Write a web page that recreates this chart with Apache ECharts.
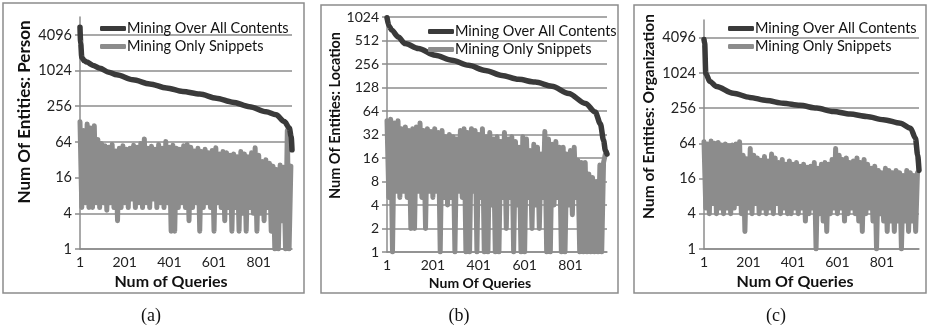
<!DOCTYPE html>
<html>
<head>
<meta charset="utf-8">
<script src="https://cdn.jsdelivr.net/npm/echarts@6/dist/echarts.min.js"></script>
<style>
  html, body { margin: 0; padding: 0; background: #fff; }
  #chart { width: 927px; height: 332px; }
</style>
</head>
<body>
<div id="chart"></div>
<script>
// series names, shared by the three panels
const seriesNames = ['Mining Over All Contents', 'Mining Only Snippets'];
const panelCaptions = ['(a)', '(b)', '(c)'];
const yTitles = ['Num Of Entities: Person', 'Num Of Entities: Location', 'Num of Entities: Organization'];
const xTitles = ['Num of Queries', 'Num Of Queries', 'Num Of Queries'];

// number of queries per panel
const queryCounts = [950, 960, 968];
// snippet values are read every 8th query
const sampleStep = 8;

// (a) Person
const overallQueriesA = [1, 4, 9, 20, 31, 60, 90, 130, 165, 238, 313, 388, 461, 537, 611, 684, 760, 834, 879, 916, 938, 946, 950];
const overallA = [5500, 3000, 1700, 1500, 1420, 1250, 1120, 960, 870, 715, 610, 520, 455, 410, 350, 300, 252, 207, 183, 141, 110, 80, 47];
const snippetA = [
  140, 5, 100, 6, 128, 5, 110, 5, 120, 6, 70, 5,
  60, 6, 55, 4.5, 52, 6, 58, 5, 45, 3, 50, 5,
  55, 6, 48, 5, 50, 7, 56, 5, 52, 6, 60, 5,
  72, 6, 50, 5, 54, 7, 48, 5, 58, 6, 50, 5,
  65, 6, 52, 2, 56, 2, 50, 5, 48, 6, 55, 5,
  58, 3, 52, 5, 45, 6, 50, 2, 44, 5, 48, 6,
  42, 5, 46, 2, 51, 6, 40, 5, 44, 3, 42, 5,
  38, 2, 40, 5, 36, 2, 44, 4, 40, 2, 36, 5,
  42, 4, 51, 2, 38, 4, 30, 3, 32, 5, 28, 2,
  25, 1, 22, 1, 26, 3, 24, 1, 100, 1, 25
];

// (b) Location
const overallQueriesB = [1, 10, 21, 50, 80, 138, 211, 284, 356, 429, 502, 574, 647, 720, 793, 866, 909, 931, 945, 953, 960];
const overallB = [1000, 780, 700, 568, 468, 404, 331, 286, 246, 212, 183, 163, 150, 133, 107, 80, 62, 44, 27, 20, 18];
const snippetB = [
  48, 5, 50, 1, 45, 6, 48, 5, 38, 6, 40, 5,
  36, 2, 38, 2, 40, 6, 45, 5, 36, 2, 38, 6,
  35, 5, 38, 6, 34, 1, 36, 5, 30, 4, 32, 5,
  30, 1, 28, 6, 36, 5, 38, 1, 34, 1, 38, 6,
  36, 1, 32, 5, 38, 1, 30, 1, 34, 4, 28, 1,
  30, 1, 26, 5, 34, 2, 28, 5, 30, 1, 26, 4,
  22, 1, 30, 1, 28, 5, 20, 2, 24, 4, 22, 2,
  18, 5, 35, 1, 28, 1, 24, 4, 26, 5, 22, 1,
  22, 1, 18, 4, 20, 3, 22, 5, 15, 1, 14, 1,
  14, 1, 10, 1, 9, 1, 8, 1, 13, 1, 14, 18
];

// (c) Organization
const overallQueriesC = [1, 4, 9, 27, 57, 132, 207, 282, 357, 432, 508, 583, 658, 733, 808, 884, 930, 952, 962, 968];
const overallC = [3800, 3300, 1000, 730, 600, 460, 390, 345, 310, 285, 256, 224, 202, 184, 162, 141, 116, 78, 40, 22];
const snippetC = [
  68, 5, 62, 4, 70, 6, 64, 4, 66, 5, 60, 4,
  62, 5, 58, 4, 60, 5, 62, 6, 68, 4, 40, 2,
  35, 5, 52, 4, 40, 6, 36, 4, 33, 5, 38, 4,
  32, 5, 42, 4, 36, 6, 30, 4, 34, 5, 28, 4,
  32, 4, 28, 5, 30, 4, 26, 5, 28, 3, 25, 4,
  26, 5, 30, 1, 24, 4, 28, 3, 30, 2, 28, 4,
  34, 5, 52, 4, 40, 5, 34, 3, 36, 4, 30, 5,
  32, 4, 36, 3, 30, 2, 34, 4, 28, 5, 24, 3,
  26, 1, 22, 4, 20, 3, 24, 2, 22, 3, 20, 2,
  22, 3, 20, 1, 18, 3, 22, 2, 20, 3, 18, 2, 20
];

const overallQueries = [overallQueriesA, overallQueriesB, overallQueriesC];
const overall = [overallA, overallB, overallC];
const snippets = [snippetA, snippetB, snippetC];

const font = 'Lato, "Noto Sans", sans-serif';
const gray = '#8c8c8c';

// layout of each panel
const panels = [
  {grid: {left: 80, top: 17, width: 212, height: 232}, logBase: 4, max: 8192, box: [3, 3, 301, 290],
   legend: {left: 95, top: 16}, yName: {size: 17, gap: 47, shift: 42}, xName: {size: 16, gap: 22, shift: 30}, yFont: 14.5, caption: 151},
  {grid: {left: 387, top: 17, width: 220, height: 235}, logBase: 2, max: 1024, box: [321, 5, 297, 288],
   legend: {left: 423, top: 19}, yName: {size: 14.5, gap: 41, shift: 38}, xName: {size: 14, gap: 20, shift: 34}, yFont: 14, caption: 459},
  {grid: {left: 704, top: 20, width: 215, height: 229}, logBase: 4, max: 8192, box: [634, 5, 292, 288],
   legend: {left: 723, top: 16}, yName: {size: 15.5, gap: 47, shift: 36}, xName: {size: 16, gap: 22, shift: 33}, yFont: 14.5, caption: 776}
];

const grids = [], xAxes = [], yAxes = [], series = [], legends = [], graphics = [];

panels.forEach((p, k) => {
  grids.push(p.grid);
  const queries = Array.from({length: queryCounts[k]}, (_, i) => String(i + 1));
  xAxes.push({
    type: 'category', gridIndex: k, data: queries, boundaryGap: false,
    axisLine: {lineStyle: {color: gray, width: 1.5}},
    axisTick: {show: false},
    axisLabel: {interval: 199, color: '#222', fontFamily: font, fontSize: 14, margin: 6},
    splitLine: {show: false},
    name: xTitles[k], nameLocation: 'middle', nameGap: p.xName.gap,
    nameTextStyle: {fontFamily: font, fontWeight: 'bold', fontSize: p.xName.size, color: '#111', padding: [0, p.xName.shift, 0, 0]}
  });
  yAxes.push({
    type: 'log', gridIndex: k, logBase: p.logBase, min: 1, max: p.max, interval: 1,
    axisLine: {show: true, lineStyle: {color: gray, width: 1.5}},
    axisTick: {show: true, length: 5, lineStyle: {color: gray, width: 1.5}},
    axisLabel: {color: '#222', fontFamily: font, fontSize: p.yFont, margin: 8,
      showMaxLabel: p.max === 1024, formatter: (v) => String(Math.round(v))},
    splitLine: {show: true, showMaxLine: p.max === 1024, lineStyle: {color: gray, width: 1.5}},
    name: yTitles[k], nameLocation: 'middle', nameGap: p.yName.gap,
    nameTextStyle: {fontFamily: font, fontWeight: 'bold', fontSize: p.yName.size, color: '#111', padding: [0, 0, 0, p.yName.shift]}
  });
  series.push({
    name: seriesNames[0], type: 'line', xAxisIndex: k, yAxisIndex: k,
    data: overallQueries[k].map((q, i) => [q - 1, overall[k][i]]),
    showSymbol: false, smooth: 0.3, smoothMonotone: 'x',
    lineStyle: {color: '#3a3a3a', width: 5.5, cap: 'round', join: 'round'},
    itemStyle: {color: '#3a3a3a'}, z: 3
  });
  series.push({
    name: seriesNames[1], type: 'line', xAxisIndex: k, yAxisIndex: k,
    data: snippets[k].map((v, i) => [i * sampleStep, v]),
    showSymbol: false,
    lineStyle: {color: gray, width: 5, cap: 'round', join: 'round'},
    itemStyle: {color: gray}, z: 2
  });
  legends.push({
    left: p.legend.left, top: p.legend.top, orient: 'vertical', itemGap: 3,
    data: seriesNames, icon: 'roundRect', itemWidth: 26, itemHeight: 5,
    textStyle: {fontFamily: font, fontSize: 14.5, color: '#111', lineHeight: 15, padding: [0, 0, 0, -4]}
  });
  graphics.push({
    type: 'rect', shape: {x: p.box[0], y: p.box[1], width: p.box[2], height: p.box[3]},
    style: {fill: 'none', stroke: gray, lineWidth: 1.5}, silent: true
  });
  graphics.push({
    type: 'text', x: p.caption, y: 316,
    style: {text: panelCaptions[k], font: '18px "Liberation Serif", "DejaVu Serif", serif', fill: '#111', textAlign: 'center', textVerticalAlign: 'middle'}
  });
});

const myChart = echarts.init(document.getElementById('chart'));
myChart.setOption({
  animation: false,
  backgroundColor: '#fff',
  grid: grids,
  xAxis: xAxes,
  yAxis: yAxes,
  legend: legends,
  series: series,
  graphic: graphics
});
</script>
</body>
</html>
